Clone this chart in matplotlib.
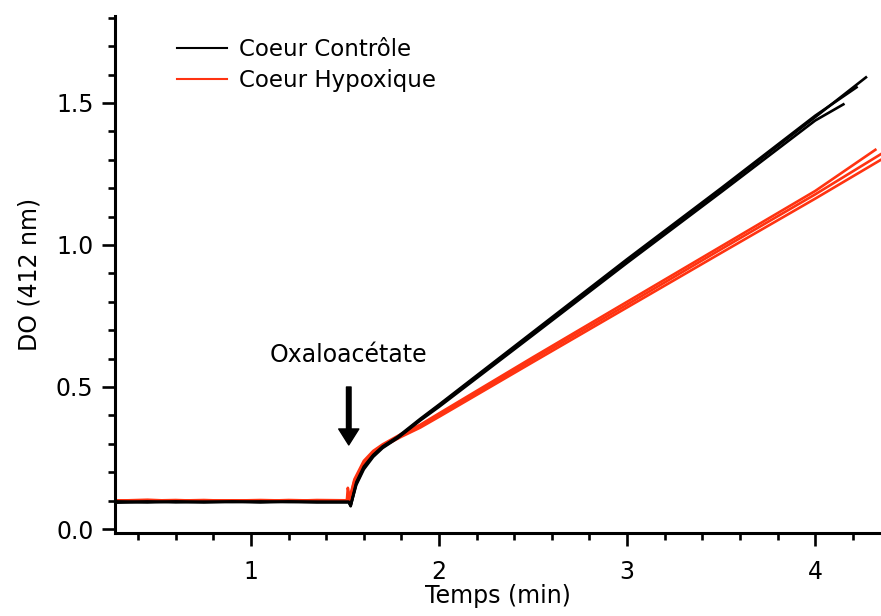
import numpy as np
import matplotlib
matplotlib.use('Agg')
import matplotlib.pyplot as plt
from matplotlib.ticker import MultipleLocator

plt.rcParams['font.family'] = ['DejaVu Sans']

# temps (min) et DO
ctrl_t = [0.29, 0.45, 0.60, 0.75, 0.90, 1.05, 1.20, 1.35, 1.52, 1.53, 1.56, 1.60,
          1.65, 1.70, 1.78, 1.90, 2.00, 2.50, 3.00, 3.50, 4.00]
ctrl_1 = [0.095, 0.097, 0.094, 0.096, 0.095, 0.097, 0.095, 0.096, 0.095, 0.080, 0.160, 0.215,
          0.258, 0.288, 0.322, 0.385, 0.435, 0.690, 0.945, 1.195, 1.450]
ctrl_2 = [0.093, 0.095, 0.096, 0.094, 0.097, 0.095, 0.096, 0.094, 0.094, 0.082, 0.155, 0.210,
          0.254, 0.285, 0.320, 0.382, 0.430, 0.683, 0.937, 1.186, 1.438]
ctrl_3 = [0.097, 0.094, 0.097, 0.095, 0.096, 0.094, 0.097, 0.095, 0.096, 0.085, 0.165, 0.220,
          0.261, 0.291, 0.325, 0.388, 0.438, 0.694, 0.950, 1.200, 1.455]
ctrl_end_t = [4.27, 4.15, 4.22]
ctrl_end_y = [1.590, 1.495, 1.555]

hyp_t = [0.29, 0.45, 0.60, 0.75, 0.90, 1.05, 1.20, 1.35, 1.51, 1.515, 1.525, 1.55, 1.60,
         1.65, 1.70, 1.80, 1.90, 2.00, 2.50, 3.00, 3.50, 4.00]
hyp_1 = [0.100, 0.103, 0.099, 0.101, 0.100, 0.102, 0.100, 0.101, 0.100, 0.145, 0.110, 0.175, 0.240,
         0.275, 0.298, 0.335, 0.367, 0.407, 0.605, 0.800, 0.995, 1.190]
hyp_2 = [0.098, 0.100, 0.102, 0.099, 0.101, 0.099, 0.102, 0.100, 0.099, 0.120, 0.105, 0.170, 0.235,
         0.271, 0.294, 0.330, 0.362, 0.400, 0.597, 0.790, 0.985, 1.178]
hyp_3 = [0.101, 0.099, 0.100, 0.102, 0.099, 0.101, 0.099, 0.102, 0.101, 0.110, 0.100, 0.165, 0.230,
         0.267, 0.290, 0.325, 0.357, 0.395, 0.588, 0.780, 0.972, 1.163]
hyp_end_t = [4.32, 4.35, 4.35]
hyp_end_y = [1.335, 1.320, 1.300]

rouge = '#ff3311'

fig = plt.figure(figsize=(8.81, 6.16), dpi=100)
ax = fig.add_axes([115/881, 83/616, 766/881, 517/616])

for y, te, ye in zip([hyp_1, hyp_2, hyp_3], hyp_end_t, hyp_end_y):
    ax.plot(hyp_t + [te], y + [ye], color=rouge, lw=1.9)
for y, te, ye in zip([ctrl_1, ctrl_2, ctrl_3], ctrl_end_t, ctrl_end_y):
    ax.plot(ctrl_t + [te], y + [ye], color='black', lw=1.9)

# legende
ax.plot([], [], color='black', lw=1.5, label='Coeur Contrôle')
ax.plot([], [], color=rouge, lw=1.5, label='Coeur Hypoxique')
h, l = ax.get_legend_handles_labels()
ax.legend(h[-2:], l[-2:], loc='upper left', bbox_to_anchor=(0.081, 0.958), frameon=False,
          fontsize=16.5, borderpad=0, borderaxespad=0, handlelength=2.2, handletextpad=0.5,
          labelspacing=0.38)

ax.annotate('', xy=(1.52, 0.296), xytext=(1.52, 0.50),
            arrowprops=dict(width=3.3, headwidth=14.5, headlength=11.5, color='black'))
ax.text(1.52, 0.613, 'Oxaloacétate', ha='center', va='center', fontsize=17)

ax.set_xlim(0.277, 4.35)
ax.set_ylim(-0.014, 1.806)
ax.xaxis.set_major_locator(MultipleLocator(1))
ax.xaxis.set_minor_locator(MultipleLocator(0.2))
ax.yaxis.set_major_locator(MultipleLocator(0.5))
ax.yaxis.set_minor_locator(MultipleLocator(0.1))
ax.set_yticks([0, 0.5, 1.0, 1.5])
ax.set_yticklabels(['0.0', '0.5', '1.0', '1.5'])

for s in ['top', 'right']:
    ax.spines[s].set_visible(False)
for s in ['left', 'bottom']:
    ax.spines[s].set_linewidth(2.2)
ax.tick_params(which='major', length=9.5, width=1.9, labelsize=17)
ax.tick_params(which='minor', length=5, width=1.9)
ax.tick_params(axis='x', which='major', pad=10)
ax.tick_params(axis='y', which='major', pad=6)

ax.set_xlabel('Temps (min)', fontsize=17, labelpad=0)
ax.set_ylabel('DO (412 nm)', fontsize=17, labelpad=10)

fig.savefig('out.png', dpi=100)
